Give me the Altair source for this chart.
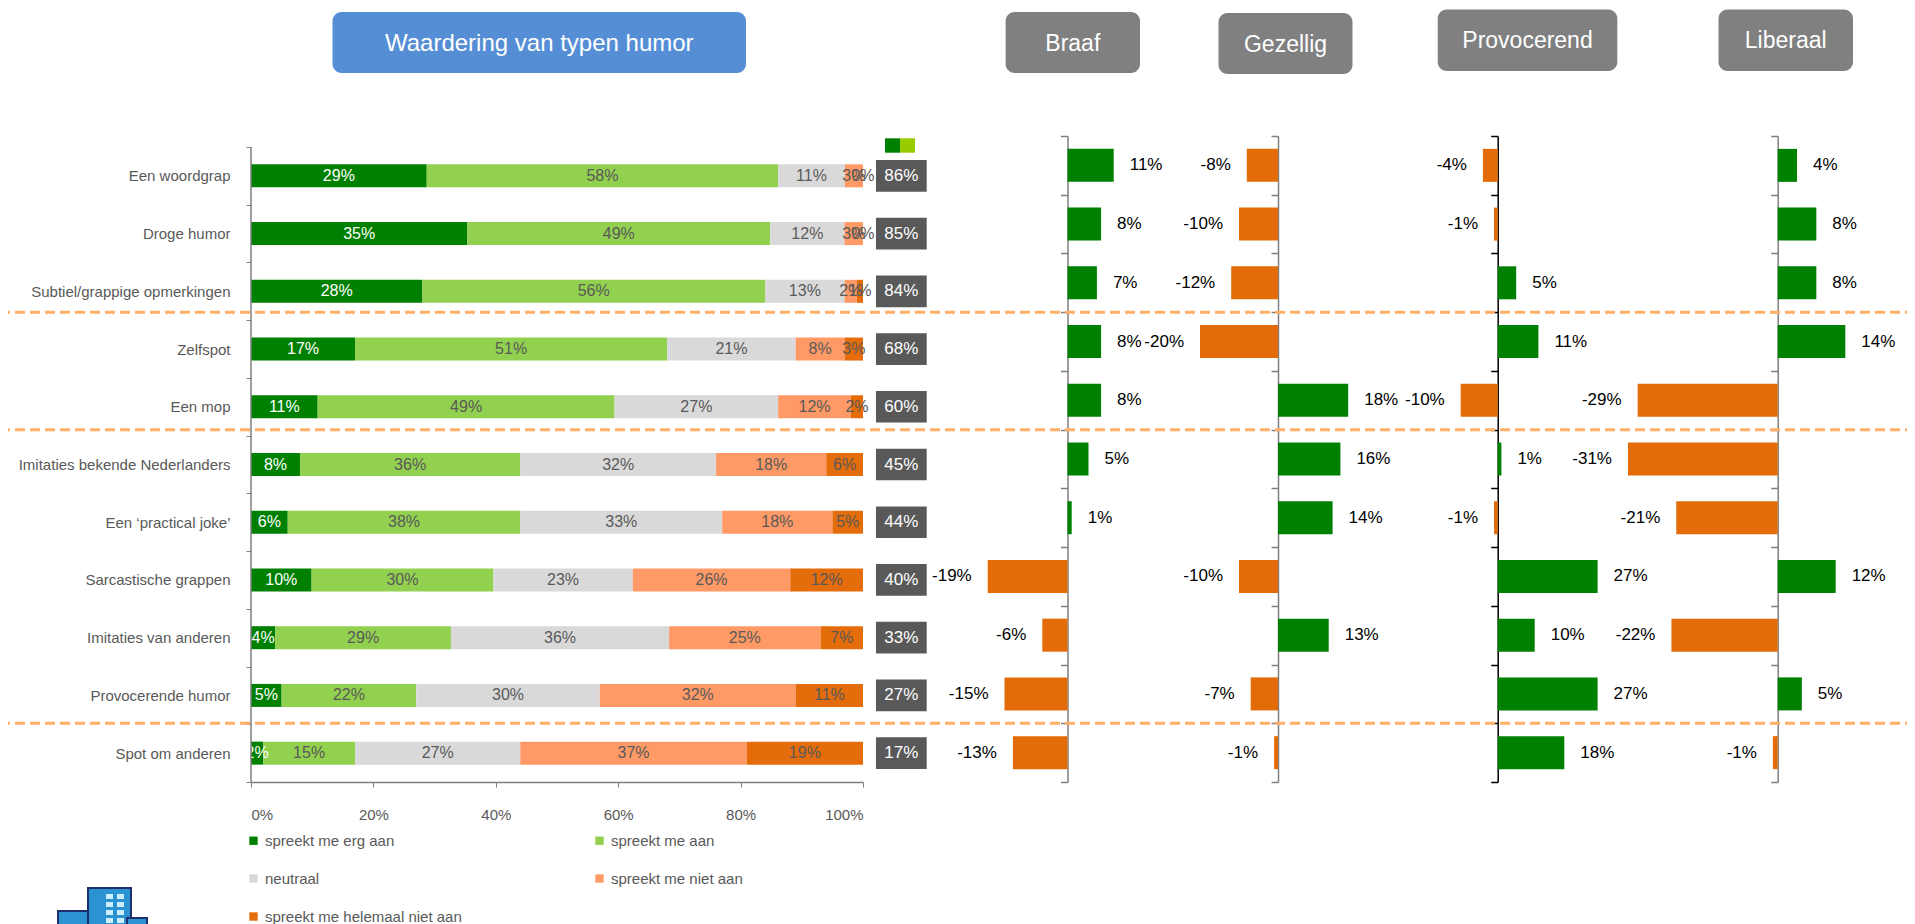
import altair as alt
import pandas as pd

# ---------------- data ----------------
CATS = [
    "Een woordgrap",
    "Droge humor",
    "Subtiel/grappige opmerkingen",
    "Zelfspot",
    "Een mop",
    "Imitaties bekende Nederlanders",
    "Een \u2018practical joke\u2019",
    "Sarcastische grappen",
    "Imitaties van anderen",
    "Provocerende humor",
    "Spot om anderen",
]
ANSWERS = [
    "spreekt me erg aan",
    "spreekt me aan",
    "neutraal",
    "spreekt me niet aan",
    "spreekt me helemaal niet aan",
]
ERG_AAN = [29, 35, 28, 17, 11, 8, 6, 10, 4, 5, 2]
AAN = [58, 49, 56, 51, 49, 36, 38, 30, 29, 22, 15]
NEUTRAAL = [11, 12, 13, 21, 27, 32, 33, 23, 36, 30, 27]
NIET_AAN = [3, 3, 2, 8, 12, 18, 18, 26, 25, 32, 37]
HELEMAAL_NIET = [0, 0, 1, 3, 2, 6, 5, 12, 7, 11, 19]
TOTALS = [86, 85, 84, 68, 60, 45, 44, 40, 33, 27, 17]

BRAAF = [11, 8, 7, 8, 8, 5, 1, -19, -6, -15, -13]
GEZELLIG = [-8, -10, -12, -20, 18, 16, 14, -10, 13, -7, -1]
PROVOCEREND = [-4, -1, 5, 11, -10, 1, -1, 27, 10, 27, 18]
LIBERAAL = [4, 8, 8, 14, -29, -31, -21, 12, -22, 5, -1]

HEADERS = ["Waardering van typen humor", "Braaf", "Gezellig", "Provocerend", "Liberaal"]
SEPARATE_AFTER = ["Subtiel/grappige opmerkingen", "Een mop", "Provocerende humor"]

# ---------------- styles / layout ----------------
FONT = "Liberation Sans, Arial, sans-serif"
COLORS = ["#008000", "#92D050", "#D9D9D9", "#FF9966", "#E46C0A"]
GREEN = "#008000"
ORANGE = "#E36C09"
GREY_TXT = "#595959"
AX = "#7F7F7F"

PAD_LEFT = 243
W = 1656
H = 774
MAIN_X_RANGE = [0, 612]
MAIN_Y_RANGE = [139, 774]
PANEL_Y_RANGE = [128, 774]
# (field, zero pixel, px per percent, axis colour)
PANELS = [
    ("braaf", 816.5, 4.2, AX),
    ("gezellig", 1027.0, 3.9, AX),
    ("provocerend", 1246.7, 3.7, "#000000"),
    ("liberaal", 1526.7, 4.83, AX),
]
HEADER_BOX = {
    "Waardering van typen humor": (81.5, 495, 4, 65, "#558ED5", 24),
    "Braaf": (754.6, 889, 4, 65, "#808080", 23),
    "Gezellig": (967.5, 1101.5, 5, 66, "#808080", 23),
    "Provocerend": (1186.7, 1366.3, 1.5, 63, "#808080", 23),
    "Liberaal": (1467.5, 1602, 1.5, 63, "#808080", 23),
}

# ---------------- tables ----------------
series = [ERG_AAN, AAN, NEUTRAAL, NIET_AAN, HELEMAAL_NIET]
rows = []
for oi, (ans, vals) in enumerate(zip(ANSWERS, series)):
    for c, v in zip(CATS, vals):
        rows.append({"cat": c, "answer": ans, "order": oi, "value": v})
main_df = pd.DataFrame(rows)
tot_df = pd.DataFrame({"cat": CATS, "total": TOTALS})
panel_df = pd.DataFrame({"cat": CATS, "braaf": BRAAF, "gezellig": GEZELLIG,
                         "provocerend": PROVOCEREND, "liberaal": LIBERAAL})
head_df = pd.DataFrame({"name": HEADERS})
sep_df = pd.DataFrame({"cat": SEPARATE_AFTER})
one_df = pd.DataFrame({"k": [0]})

main_x = alt.Scale(domain=[0, 1], range=MAIN_X_RANGE, nice=False)
main_y = alt.Scale(domain=CATS, range=MAIN_Y_RANGE, paddingInner=0, paddingOuter=0)

base = (
    alt.Chart(main_df)
    .transform_joinaggregate(tot="sum(value)", groupby=["cat"])
    .transform_window(cum="sum(value)", groupby=["cat"],
                      sort=[alt.SortField("order")], frame=[None, 0])
    .transform_calculate(
        start="(datum.cum - datum.value) / datum.tot",
        end="datum.cum / datum.tot",
        mid="(datum.cum - datum.value / 2) / datum.tot",
        lbl="datum.value + '%'",
    )
)

bars = base.mark_bar(size=23).encode(
    x=alt.X("start:Q", scale=main_x,
            axis=alt.Axis(values=[0, 0.2, 0.4, 0.6, 0.8, 1], format=".0%", title=None,
                          grid=False, tickSize=5, labelPadding=20, labelFontSize=15,
                          labelColor=GREY_TXT, domainColor=AX, tickColor=AX,
                          domainWidth=1.5, labelFont=FONT)),
    x2="end:Q",
    y=alt.Y("cat:N", scale=main_y,
            axis=alt.Axis(title=None, tickBand="extent", tickSize=5, labelPadding=16,
                          labelFontSize=15, labelColor=GREY_TXT, domain=False,
                          tickColor=AX, labelLimit=400, labelFont=FONT, grid=False)),
    color=alt.Color("answer:N", scale=alt.Scale(domain=ANSWERS, range=COLORS),
                    legend=alt.Legend(orient="none", legendX=-5, legendY=825, columns=2,
                                      direction="horizontal",
                                      title=None, symbolType="square", symbolSize=70,
                                      symbolStrokeWidth=0, labelFontSize=15,
                                      labelColor=GREY_TXT, labelLimit=400,
                                      columnPadding=130, rowPadding=22, labelOffset=4,
                                      padding=0, labelFont=FONT)),
)
seg_text = base.mark_text(fontSize=16, baseline="middle", font=FONT).encode(
    x="mid:Q",
    y="cat:N",
    text="lbl:N",
    color=alt.condition("datum.order == 0", alt.value("white"), alt.value(GREY_TXT)),
)
tot_base = alt.Chart(tot_df).transform_calculate(lbl="datum.total + '%'")
tot_box = tot_base.mark_bar(size=31.7, color="#595959").encode(
    x=alt.datum(1.0212), x2=alt.datum(1.1041), y="cat:N")
tot_text = tot_base.mark_text(color="white", fontSize=17, font=FONT).encode(
    x=alt.datum(1.0626), y="cat:N", text="lbl:N")
# main category axis line
main_axis_line = alt.Chart(one_df).mark_rule(color=AX, strokeWidth=1.5).encode(
    x=alt.datum(0), y=alt.value(MAIN_Y_RANGE[0]), y2=alt.value(MAIN_Y_RANGE[1]))

main = alt.layer(bars, seg_text, tot_box, tot_text, main_axis_line)


def panel(field, z, k, axcol):
    xs = alt.Scale(domain=[-100, 100], range=[z - 100 * k, z + 100 * k], nice=False)
    ys = alt.Scale(domain=CATS, range=PANEL_Y_RANGE, paddingInner=0, paddingOuter=0)
    b = alt.Chart(panel_df)
    pb = b.mark_bar(size=33).encode(
        x=alt.X(f"{field}:Q", scale=xs, axis=None),
        x2=alt.datum(0),
        y=alt.Y("cat:N", scale=ys,
                axis=alt.Axis(orient="left", offset=-z, labels=False, title=None,
                              tickBand="extent", tickSize=7, domainColor=axcol,
                              tickColor=axcol, domainWidth=1.5, tickWidth=1.5,
                              grid=False)),
        color=alt.condition(f"datum.{field} >= 0", alt.value(GREEN), alt.value(ORANGE)),
    )
    lb = b.transform_calculate(lbl=f"datum.{field} + '%'")
    pos = lb.transform_filter(f"datum.{field} >= 0").mark_text(
        align="left", dx=16, fontSize=17, color="black", font=FONT).encode(
        x=f"{field}:Q", y="cat:N", text="lbl:N")
    neg = lb.transform_filter(f"datum.{field} < 0").mark_text(
        align="right", dx=-16, fontSize=17, color="black", font=FONT).encode(
        x=f"{field}:Q", y="cat:N", text="lbl:N")
    return alt.layer(pb, pos, neg)


panels = [panel(f, z, k, c) for f, z, k, c in PANELS]

sep = alt.Chart(sep_df).mark_rule(color="#FFB066", strokeWidth=3, strokeDash=[10, 5]).encode(
    y=alt.Y("cat:N", bandPosition=1,
            scale=alt.Scale(domain=CATS, range=PANEL_Y_RANGE, paddingInner=0, paddingOuter=0),
            axis=None),
    x=alt.value(-251), x2=alt.value(W),
)

deco = []
for name in HEADERS:
    x0, x1, y0, y1, fill, fs = HEADER_BOX[name]
    hb = alt.Chart(head_df).transform_filter(alt.datum.name == name)
    deco.append(hb.mark_rect(cornerRadius=9, color=fill).encode(
        x=alt.value(x0), x2=alt.value(x1), y=alt.value(y0), y2=alt.value(y1)))
    deco.append(hb.mark_text(color="white", fontSize=fs, font=FONT).encode(
        x=alt.value((x0 + x1) / 2), y=alt.value((y0 + y1) / 2 + 1), text="name:N"))

# small key above the totals column (dark + light green)
key = alt.Chart(one_df)
deco.append(key.mark_rect(color="#008000").encode(
    x=alt.value(634), x2=alt.value(649), y=alt.value(130.3), y2=alt.value(144.7)))
deco.append(key.mark_rect(color="#99CC00").encode(
    x=alt.value(649), x2=alt.value(664), y=alt.value(130.3), y2=alt.value(144.7)))

# simple stand-in for the building logo at the bottom left
LOGO_RECTS = [
    (-193, -150, 903, 920, "#2C93D3"),
    (-163, -120, 880, 920, "#2C93D3"),
    (-124, -104, 910, 920, "#2C93D3"),
]
for x0, x1, y0, y1, fill in LOGO_RECTS:
    deco.append(key.mark_rect(color=fill, stroke="#1F2F6E", strokeWidth=2).encode(
        x=alt.value(x0), x2=alt.value(x1), y=alt.value(y0), y2=alt.value(y1)))
for wx in (-145, -134):
    for wy in (886, 894, 902, 910):
        deco.append(key.mark_rect(color="#CDEFFB").encode(
            x=alt.value(wx), x2=alt.value(wx + 7), y=alt.value(wy), y2=alt.value(wy + 5)))

chart = (
    alt.layer(main, *panels, sep, *deco)
    .resolve_scale(x="independent", y="independent", color="independent")
    .properties(width=W, height=H,
                autosize=alt.AutoSizeParams(type="none"),
                padding={"left": PAD_LEFT, "top": 0, "right": 0, "bottom": 142})
    .configure(font=FONT)
    .configure_view(strokeWidth=0)
)

chart.save("out.html", embed_options={"renderer": "svg", "actions": False})
